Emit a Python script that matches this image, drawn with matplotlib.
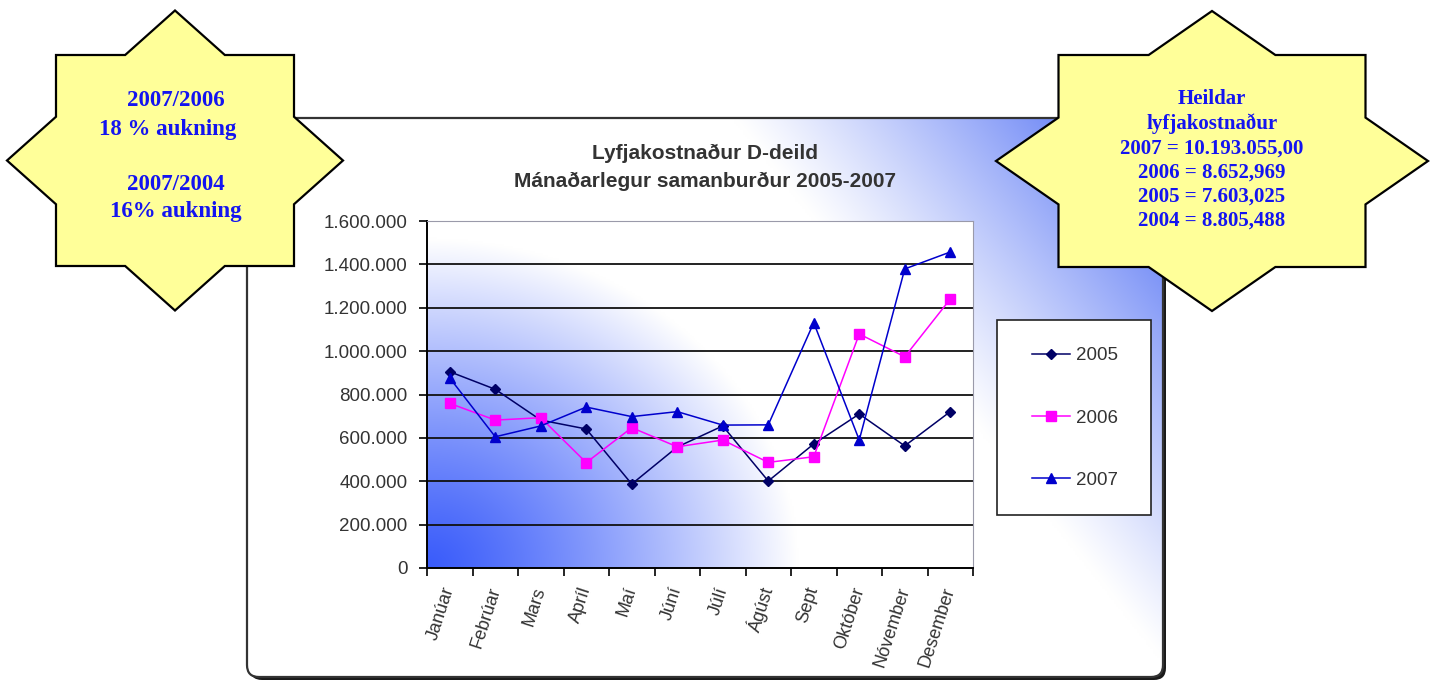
import numpy as np
import matplotlib
matplotlib.use("Agg")
import matplotlib.pyplot as plt
from matplotlib.patches import FancyBboxPatch, Rectangle, Polygon
from matplotlib.ticker import FuncFormatter
from matplotlib.colors import to_rgb

# ---------------- data ----------------
months = ["Janúar", "Febrúar", "Mars", "Apríl", "Maí", "Júní", "Júlí",
          "Ágúst", "Sept", "Október", "Nóvember", "Desember"]
v2005 = [905000, 824000, 682000, 641000, 387000, 558000, 655000,
         401000, 572000, 710000, 563000, 721000]
v2006 = [759000, 682000, 693000, 486000, 647000, 559000, 590000,
         487000, 513000, 1079000, 974000, 1240000]
v2007 = [876000, 605000, 655000, 742000, 698000, 721000, 659000,
         660000, 1131000, 590000, 1379000, 1457000]
series_names = ["2005", "2006", "2007"]
y_ticks = [0, 200000, 400000, 600000, 800000, 1000000, 1200000, 1400000, 1600000]

title_lines = ["Lyfjakostnaður D-deild", "Mánaðarlegur samanburður 2005-2007"]
left_star_lines = ["2007/2006", "18 % aukning", "", "2007/2004", "16% aukning"]
right_star_lines = ["Heildar", "lyfjakostnaður", "2007 = 10.193.055,00",
                    "2006 = 8.652,969", "2005 = 7.603,025", "2004 = 8.805,488"]

W_PX, H_PX = 1436, 680
fig = plt.figure(figsize=(W_PX / 100, H_PX / 100), dpi=100)
fig.patch.set_facecolor("white")

# ---------------- background overlay (panel) ----------------
bg = fig.add_axes([0, 0, 1, 1], zorder=0)
bg.set_xlim(0, W_PX)
bg.set_ylim(H_PX, 0)
bg.axis("off")

px0, py0, px1, py1 = 247, 118, 1163, 677
pw, ph = px1 - px0, py1 - py0
shadow = FancyBboxPatch((px0 + 3, py0 + 3), pw, ph,
                        boxstyle="round,pad=0,rounding_size=12",
                        fc="#1a1a1a", ec="none", zorder=1)
bg.add_patch(shadow)
panel = FancyBboxPatch((px0, py0), pw, ph,
                       boxstyle="round,pad=0,rounding_size=12",
                       fc="white", ec="none", zorder=2)
bg.add_patch(panel)

blue = np.array(to_rgb("#4a6af4"))
white = np.array([1.0, 1.0, 1.0])
nx, ny = 400, 250
p = np.linspace(0, 1, nx)[None, :]
q = np.linspace(1, 0, ny)[:, None]  # row 0 = top
s = np.clip(2.2 * p + 1.06 * q - 2.23, 0, 1) ** 1.1
img = white[None, None, :] * (1 - s[..., None]) + blue[None, None, :] * s[..., None]
im = bg.imshow(img, extent=(px0, px1, py1, py0), origin="upper",
               aspect="auto", zorder=3, interpolation="bilinear")
im.set_clip_path(panel)
border = FancyBboxPatch((px0, py0), pw, ph,
                        boxstyle="round,pad=0,rounding_size=12",
                        fc="none", ec="#333333", lw=1.6, zorder=4)
bg.add_patch(border)

# title
bg.text(705, 153, title_lines[0], ha="center", va="center",
        fontsize=15, fontweight="bold", color="#333333",
        family="Liberation Sans", zorder=5)
bg.text(705, 181, title_lines[1], ha="center", va="center",
        fontsize=15, fontweight="bold", color="#333333",
        family="Liberation Sans", zorder=5)

# legend box
bg.add_patch(Rectangle((997, 320), 154, 195, fc="white", ec="#222222",
                       lw=1.2, zorder=5))

# ---------------- chart axes ----------------
ax = fig.add_axes([427 / W_PX, 1 - 568 / H_PX, (973 - 427) / W_PX, (568 - 221) / H_PX],
                  zorder=1)
ax.patch.set_alpha(0)
x = np.arange(len(months))
ax.set_xlim(-0.5, len(months) - 0.5)
ax.set_ylim(y_ticks[0], y_ticks[-1])

# plot-area gradient (radial from bottom-left corner)
gx, gy = 300, 200
u = np.linspace(0, 1, gx)[None, :]
v = np.linspace(0, 1, gy)[:, None]  # row 0 = bottom
d = np.clip(np.sqrt((u / 0.68) ** 2 + (v / 0.95) ** 2), 0, 1) ** 1.2
pblue = np.array(to_rgb("#3a5cfa"))
pimg = pblue[None, None, :] * (1 - d[..., None]) + white[None, None, :] * d[..., None]
ax.imshow(pimg, extent=(-0.5, len(months) - 0.5, y_ticks[0], y_ticks[-1]),
          origin="lower", aspect="auto", zorder=0, interpolation="bilinear")

for yv in y_ticks[1:-1]:
    ax.axhline(yv, color="#111111", lw=1.3, zorder=1)

ax.plot(x, v2005, color="#000066", marker="D", ms=5, lw=1.1, label=series_names[0], zorder=3)
ax.plot(x, v2006, color="#ff00ff", marker="s", ms=6.5, lw=1.1, label=series_names[1], zorder=3)
ax.plot(x, v2007, color="#0000cc", marker="^", ms=7, lw=1.1, label=series_names[2], zorder=3)

ax.set_yticks(y_ticks)
ax.yaxis.set_major_formatter(FuncFormatter(lambda val, pos: f"{int(round(val)):,}".replace(",", ".")))
ax.tick_params(axis="y", direction="out", length=6, width=1.2, color="black",
               labelsize=13.5, labelcolor="#333333", pad=8)
ax.set_xticks(x)
ax.set_xticklabels(months, rotation=72, ha="right", va="center",
                   rotation_mode="anchor", fontsize=13, color="#333333")
ax.tick_params(axis="x", which="major", length=0, pad=14)
ax.set_xticks(np.arange(-0.5, len(months), 1), minor=True)
ax.tick_params(axis="x", which="minor", direction="out", length=6, width=1.2, color="black")
for lbl in ax.get_yticklabels() + ax.get_xticklabels():
    lbl.set_family("Liberation Sans")

ax.spines["left"].set_color("black")
ax.spines["left"].set_linewidth(1.4)
ax.spines["bottom"].set_color("black")
ax.spines["bottom"].set_linewidth(1.4)
ax.spines["top"].set_color("#9a9aaa")
ax.spines["right"].set_color("#9a9aaa")

leg = ax.legend(loc="center", bbox_to_anchor=(1075 / W_PX, 1 - 418 / H_PX),
                bbox_transform=fig.transFigure, frameon=False,
                prop={"family": "Liberation Sans", "size": 13.5},
                labelspacing=2.4, handlelength=2.0, handletextpad=0.3)
for t in leg.get_texts():
    t.set_color("#333333")

# ---------------- foreground overlay (stars) ----------------
fg = fig.add_axes([0, 0, 1, 1], zorder=3)
fg.set_xlim(0, W_PX)
fg.set_ylim(H_PX, 0)
fg.axis("off")
fg.patch.set_alpha(0)


def star(cx, cy, W, H, a, b):
    xi = W * (1 - b / H)
    yi = H * (1 - a / W)
    pts = [
        (cx, cy - H), (cx + xi, cy - b), (cx + a, cy - b), (cx + a, cy - yi),
        (cx + W, cy), (cx + a, cy + yi), (cx + a, cy + b), (cx + xi, cy + b),
        (cx, cy + H), (cx - xi, cy + b), (cx - a, cy + b), (cx - a, cy + yi),
        (cx - W, cy), (cx - a, cy - yi), (cx - a, cy - b), (cx - xi, cy - b),
    ]
    return Polygon(pts, closed=True, fc="#ffff99", ec="black", lw=1.6, joinstyle="miter")


fg.add_patch(star(175, 160.5, 168, 150, 119, 105.5))
fg.add_patch(star(1212, 161, 216, 150, 153.5, 106))

star_color = "#1414f0"
left_pos = [(176, 100), (168, 129), (176, 156), (176, 184), (176, 212)]
for (tx, ty), line in zip(left_pos, left_star_lines):
    if line:
        fg.text(tx, ty, line, ha="center", va="center", fontsize=16.5,
                fontweight="bold", color=star_color, family="Liberation Serif")
for i, line in enumerate(right_star_lines):
    fg.text(1212, 99.5 + i * 24.3, line, ha="center", va="center", fontsize=15,
            fontweight="bold", color=star_color, family="Liberation Serif")

fig.savefig("out.png", dpi=100, facecolor="white")
